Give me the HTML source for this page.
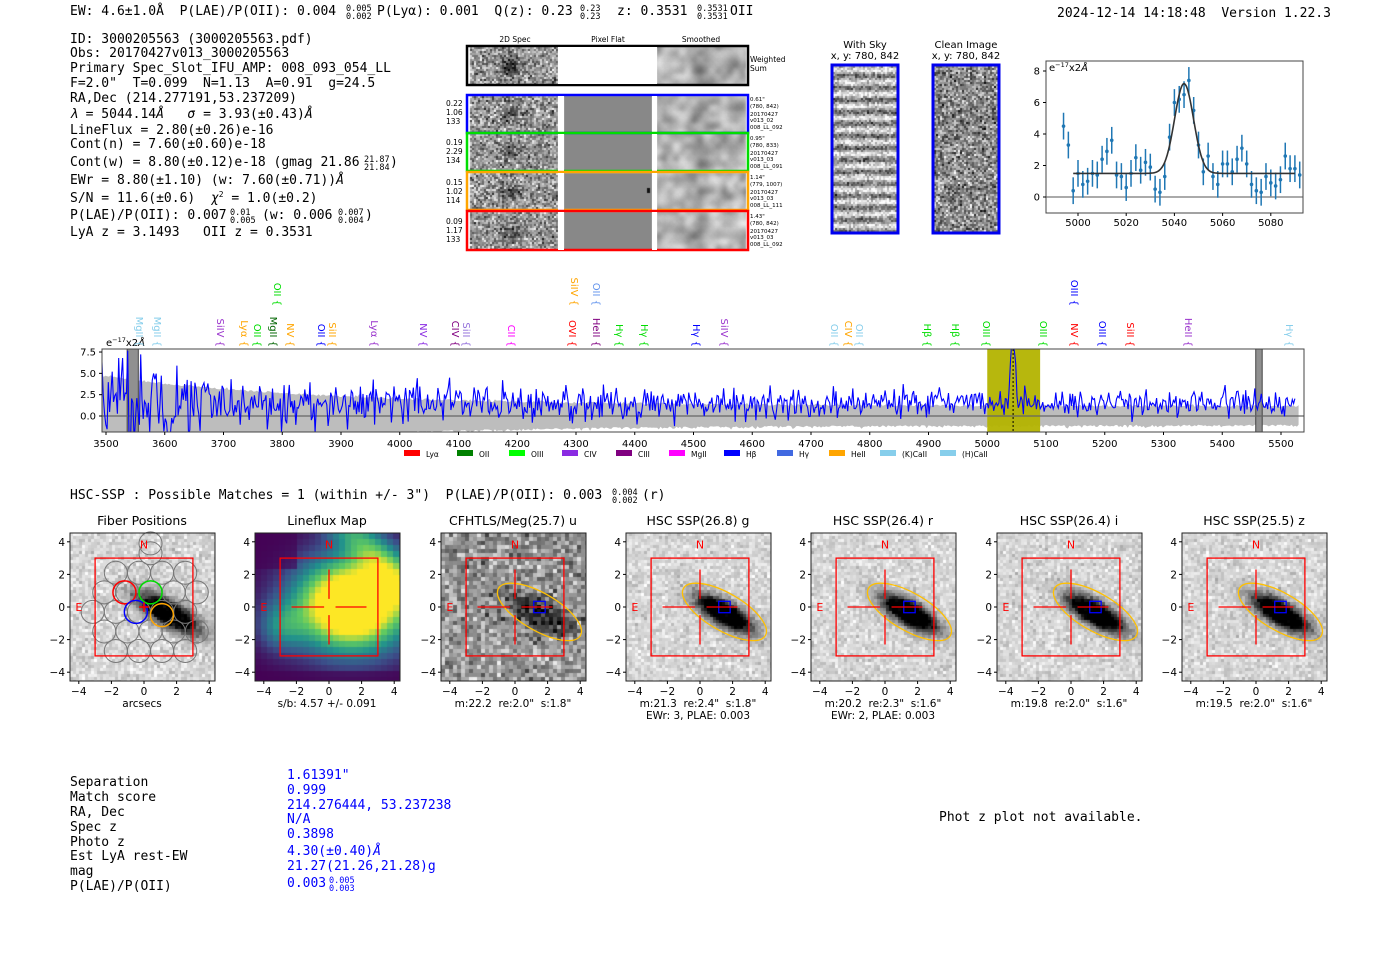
<!DOCTYPE html>
<html><head><meta charset="utf-8">
<style>
body{margin:0;background:#fff;width:1400px;height:953px;overflow:hidden;position:relative}
canvas{position:absolute;left:0;top:0}
svg{position:absolute;left:0;top:0}
.m{font-family:"DejaVu Sans Mono","Liberation Mono",monospace;font-size:13px;fill:#000}
.s{font-family:"DejaVu Sans","Liberation Sans",sans-serif}
.f{font-size:8.5px}
</style></head><body>
<canvas id="c" width="1400" height="953"></canvas>
<svg id="g" width="1400" height="953" xmlns="http://www.w3.org/2000/svg">
<g class="m">
<text x="70" y="15">EW: 4.6±1.0Å &#160;P(LAE)/P(OII): 0.004</text>
<text x="346" y="11" class="f">0.005</text><text x="346" y="19" class="f">0.002</text>
<text x="377" y="15">P(Lyα): 0.001 &#160;Q(z): 0.23</text>
<text x="580" y="11" class="f">0.23</text><text x="580" y="19" class="f">0.23</text>
<text x="617" y="15">z: 0.3531</text>
<text x="697" y="11" class="f">0.3531</text><text x="697" y="19" class="f">0.3531</text>
<text x="730" y="15">OII</text>
<text x="1057" y="17">2024-12-14 14:18:48 &#160;Version 1.22.3</text>

<text x="70" y="43">ID: 3000205563 (3000205563.pdf)</text>
<text x="70" y="57">Obs: 20170427v013_3000205563</text>
<text x="70" y="72">Primary Spec_Slot_IFU_AMP: 008_093_054_LL</text>
<text x="70" y="87">F=2.0" &#160;T=0.099 &#160;N=1.13 &#160;A=0.91 &#160;g=24.5</text>
<text x="70" y="102">RA,Dec (214.277191,53.237209)</text>
<text x="70" y="118"><tspan font-style="italic">λ</tspan> = 5044.14<tspan font-style="italic">Å</tspan> &#160;&#160;<tspan font-style="italic">σ</tspan> = 3.93(±0.43)<tspan font-style="italic">Å</tspan></text>
<text x="70" y="134">LineFlux = 2.80(±0.26)e-16</text>
<text x="70" y="148">Cont(n) = 7.60(±0.60)e-18</text>
<text x="70" y="166">Cont(w) = 8.80(±0.12)e-18 (gmag 21.86</text>
<text x="364" y="162" class="f">21.87</text><text x="364" y="170" class="f">21.84</text><text x="390" y="166">)</text>
<text x="70" y="184">EWr = 8.80(±1.10) (w: 7.60(±0.71))<tspan font-style="italic">Å</tspan></text>
<text x="70" y="202">S/N = 11.6(±0.6) &#160;<tspan font-style="italic">χ</tspan><tspan font-size="8" dy="-5">2</tspan><tspan dy="5"> = 1.0(±0.2)</tspan></text>
<text x="70" y="219">P(LAE)/P(OII): 0.007</text>
<text x="230" y="215" class="f">0.01</text><text x="230" y="223" class="f">0.005</text>
<text x="262" y="219">(w: 0.006</text><text x="338" y="215" class="f">0.007</text><text x="338" y="223" class="f">0.004</text><text x="365" y="219">)</text>
<text x="70" y="236">LyA z = 3.1493 &#160;&#160;OII z = 0.3531</text>

<text x="70" y="499">HSC-SSP : Possible Matches = 1 (within +/- 3") &#160;P(LAE)/P(OII): 0.003</text>
<text x="612" y="495" class="f">0.004</text><text x="612" y="503" class="f">0.002</text>
<text x="642" y="499">(r)</text>

<text x="70" y="786">Separation</text>
<text x="70" y="801">Match score</text>
<text x="70" y="816">RA, Dec</text>
<text x="70" y="831">Spec z</text>
<text x="70" y="846">Photo z</text>
<text x="70" y="860">Est LyA rest-EW</text>
<text x="70" y="875">mag</text>
<text x="70" y="890">P(LAE)/P(OII)</text>
<g style="fill:#0000ff">
<text x="287" y="779">1.61391"</text>
<text x="287" y="794">0.999</text>
<text x="287" y="809">214.276444, 53.237238</text>
<text x="287" y="823">N/A</text>
<text x="287" y="838">0.3898</text>
<text x="287" y="855">4.30(±0.40)<tspan font-style="italic">Å</tspan></text>
<text x="287" y="870">21.27(21.26,21.28)g</text>
<text x="287" y="887">0.003</text>
<text x="329" y="883" class="f">0.005</text><text x="329" y="891" class="f">0.003</text>
</g>
<text x="939" y="821">Phot z plot not available.</text>
</g>

<g class="s" font-size="7.5" fill="#000">
<text x="515" y="42" text-anchor="middle">2D Spec</text>
<text x="608" y="42" text-anchor="middle">Pixel Flat</text>
<text x="701" y="42" text-anchor="middle">Smoothed</text>
<text x="750" y="62">Weighted</text><text x="750" y="71">Sum</text>
<text x="446" y="106">0.22</text><text x="446" y="115">1.06</text><text x="446" y="124">133</text>
<text x="446" y="145">0.19</text><text x="446" y="154">2.29</text><text x="446" y="163">134</text>
<text x="446" y="185">0.15</text><text x="446" y="194">1.02</text><text x="446" y="203">114</text>
<text x="446" y="224">0.09</text><text x="446" y="233">1.17</text><text x="446" y="242">133</text>
</g>
<g class="s" font-size="5.5" fill="#000">
<text x="750" y="101">0.61"</text><text x="750" y="108">(780, 842)</text><text x="750" y="116">20170427</text><text x="750" y="122">v013_02</text><text x="750" y="129">008_LL_092</text>
<text x="750" y="140">0.95"</text><text x="750" y="147">(780, 833)</text><text x="750" y="155">20170427</text><text x="750" y="161">v013_03</text><text x="750" y="168">008_LL_091</text>
<text x="750" y="179">1.14"</text><text x="750" y="186">(779, 1007)</text><text x="750" y="194">20170427</text><text x="750" y="200">v013_03</text><text x="750" y="207">008_LL_111</text>
<text x="750" y="218">1.43"</text><text x="750" y="225">(780, 842)</text><text x="750" y="233">20170427</text><text x="750" y="239">v013_03</text><text x="750" y="246">008_LL_092</text>
</g>
<g class="s" font-size="10" fill="#000" text-anchor="middle">
<text x="865" y="48">With Sky</text><text x="865" y="59">x, y: 780, 842</text>
<text x="966" y="48">Clean Image</text><text x="966" y="59">x, y: 780, 842</text>
</g>
<g id="dyn"></g>
</svg>
<script>
var s=1234567;function R(){s^=s<<13;s^=s>>>17;s^=s<<5;return ((s>>>0)%100000)/100000;}
function N(){return (R()+R()+R()+R()-2)*1.73;}
var cv=document.getElementById('c'),ctx=cv.getContext('2d');
function noise(x,y,w,h,p,fn){for(var j=0;j<h;j+=p)for(var i=0;i<w;i+=p){var v=fn(i/w,j/h);if(typeof v=='number'){v=Math.max(0,Math.min(255,v|0));ctx.fillStyle='rgb('+v+','+v+','+v+')';}else ctx.fillStyle=v;ctx.fillRect(x+i,y+j,Math.min(p,w-i),Math.min(p,h-j));}}
function spec2d(y,h,dark){noise(470,y,88,h,2,function(u,v){var d=Math.exp(-((u-0.45)*(u-0.45)/0.01+(v-0.5)*(v-0.5)/0.05));return 150+N()*45-d*dark;});}
function smooth(y,h,dark){ctx.save();ctx.beginPath();ctx.rect(657,y,89,h);ctx.clip();ctx.filter='blur(3px)';noise(650,y-8,103,h+16,6,function(u,v){var d=Math.exp(-((u-0.45)*(u-0.45)/0.006+(v-0.55)*(v-0.55)/0.06));return 150+N()*50-d*dark;});ctx.restore();ctx.filter='none';}
spec2d(47,37,120);smooth(47,37,170);
var rows=[[96,37,'#0000ff'],[134,37,'#00dd00'],[173,37,'#ffa500'],[212,38,'#ff0000']];
rows.forEach(function(r,k){spec2d(r[0],r[1],60);ctx.fillStyle='#888';ctx.fillRect(564,r[0],88,r[1]);smooth(r[0],r[1],90);});
ctx.fillStyle='#111';ctx.fillRect(647,188,3,5);
noise(833,66,64,166,2,function(u,v){var st=Math.sin(v*166/12*2*Math.PI);return 170+st*60+N()*35;});
noise(934,66,64,166,2,function(u,v){return 140+N()*50;});
var vir=[[68,1,84],[59,82,139],[33,145,140],[94,201,98],[253,231,37]];
function vc(t){t=Math.max(0,Math.min(1,t))*4;var i=Math.min(3,Math.floor(t)),f=t-i,a=vir[i],b=vir[i+1];return 'rgb('+[0,1,2].map(function(k){return Math.round(a[k]+(b[k]-a[k])*f)}).join(',')+')';}
noise(255,533,145,148,6,function(u,v){var x=(u-0.5)*8.8,y=(0.5-v)*8.8;var t=1.5*Math.exp(-((x-1.3)*(x-1.3)/(2*2.4*2.4)+(y-0.3)*(y-0.3)/(2*1.9*1.9)));t+=0.5*Math.exp(-((x+y-6)*(x+y-6))/3)+0.35*Math.exp(-((x+3)*(x+3)+(y+1)*(y+1))/2);if(y<-3.5||(x<-2&&y>2.5))t*=0.4;return vc(t);});
var P=[70,255,441,626,811,997,1182];
function gal(x0,bg,amp,ns,px,sz){noise(x0,533,145,148,px,function(u,v){var x=(u-0.5)*8.8,y=(0.5-v)*8.8;var dx=x-1.5,dy=y+0.3;var c=Math.cos(-0.52),sn=Math.sin(-0.52);var a=dx*c+dy*sn,b=-dx*sn+dy*c;var d=Math.exp(-(a*a/(2*1.4*1.4*sz)+b*b/(2*0.5*0.5*sz)));return bg+N()*ns-amp*Math.min(1,d*1.6);});}
gal(70,215,230,18,3,1);gal(441,150,110,35,4,1);
[3,4,5,6].forEach(function(k){gal(P[k],215,240,16,3,0.85);});
var o='';
function T(x,y,t,a,extra){return '<text x="'+x+'" y="'+y+'" '+(a?'text-anchor="'+a+'" ':'')+(extra||'')+'>'+t+'</text>';}
o+='<rect x="467" y="46" width="281" height="39" fill="none" stroke="#000" stroke-width="2.5"/>';
o+='<rect x="558" y="47" width="99" height="37" fill="#fff"/>';
rows.forEach(function(r){o+='<rect x="467" y="'+(r[0]-1)+'" width="281" height="'+(r[1]+1)+'" fill="none" stroke="'+r[2]+'" stroke-width="2.5"/>';o+='<rect x="558" y="'+r[0]+'" width="6" height="'+r[1]+'" fill="#fff"/><rect x="652" y="'+r[0]+'" width="5" height="'+r[1]+'" fill="#fff"/>';});
o+='<rect x="832" y="65" width="66" height="168" fill="none" stroke="#0000ee" stroke-width="3"/><rect x="933" y="65" width="66" height="168" fill="none" stroke="#0000ee" stroke-width="3"/>';
var fx=function(l){return 1078+(l-5000)*2.41},fy=function(v){return 197-v*15.75};
o+='<rect x="1046" y="61" width="257" height="152" fill="none" stroke="#444" stroke-width="1"/>';
o+='<line x1="1046" y1="197" x2="1303" y2="197" stroke="#555" stroke-width="1"/>';
var d=[4.5,3.3,0.4,1.5,0.8,1.0,1.5,1.4,2.4,2.9,3.6,1.4,1.3,0.6,1.5,2.5,1.7,2.2,1.9,0.5,0.3,1.3,3.8,6.0,6.2,6.5,7.4,5.5,3.3,1.6,2.6,1.3,0.8,2.1,2.1,1.6,2.4,3.1,2.1,0.8,0.4,0.3,1.3,0.9,0.7,1.1,2.6,1.8,1.8,1.4];
var m='';for(var l=4998;l<=5090;l+=0.5){m+=fx(l).toFixed(1)+','+fy(1.5+5.7*Math.exp(-(l-5044)*(l-5044)/(2*3.93*3.93))).toFixed(1)+' ';}
d.forEach(function(v,i){var l=4994+2*i,x=fx(l);o+='<line x1="'+x+'" y1="'+fy(v+0.85)+'" x2="'+x+'" y2="'+fy(v-0.85)+'" stroke="#1f77b4" stroke-width="1.5"/><circle cx="'+x+'" cy="'+fy(v)+'" r="1.8" fill="#1f77b4"/>';});
o+='<polyline points="'+m+'" fill="none" stroke="#333" stroke-width="1.6"/>';
o+='<g class="s" font-size="10">';
[5000,5020,5040,5060,5080].forEach(function(l){o+='<line x1="'+fx(l)+'" y1="213" x2="'+fx(l)+'" y2="216" stroke="#000"/>'+T(fx(l),226,l,'middle');});
[0,2,4,6,8].forEach(function(v){o+='<line x1="1043" y1="'+fy(v)+'" x2="1046" y2="'+fy(v)+'" stroke="#000"/>'+T(1040,fy(v)+3.5,v,'end');});
o+=T(1049,71,'e<tspan font-size="6.5" dy="-4">−17</tspan><tspan dy="4">x2</tspan><tspan font-style="italic">Å</tspan>');
o+='</g>';
var sx=function(l){return 106+(l-3500)*0.5875},sy=function(v){return 416-v*8.53};
o+='<defs><clipPath id="sc"><rect x="102" y="349" width="1202" height="83"/></clipPath></defs>';
o+='<g clip-path="url(#sc)">';
function er(l){var t=(l-3500)/2000;return 1.05+3.5*Math.exp(-t*5.5);}
var up='',lo='';for(var l=3490;l<=5530;l+=3){up+=sx(l).toFixed(1)+','+sy(er(l)+Math.abs(N())*0.15).toFixed(1)+' ';}
for(var l=5530;l>=3490;l-=3){lo+=sx(l).toFixed(1)+','+sy(-er(l)*0.95-Math.abs(N())*0.15).toFixed(1)+' ';}
o+='<polygon points="'+up+lo+'" fill="#bdbdbd"/>';
o+='<rect x="'+sx(5000)+'" y="349" width="'+(sx(5090)-sx(5000))+'" height="83" fill="#b3b300" opacity="0.95"/>';
o+='<rect x="'+sx(3536)+'" y="349" width="'+(sx(3555)-sx(3536))+'" height="83" fill="#909090" stroke="#444"/>';
o+='<rect x="'+sx(5457)+'" y="349" width="'+(sx(5468)-sx(5457))+'" height="83" fill="#909090" stroke="#444"/>';
o+='<line x1="102" y1="416" x2="1304" y2="416" stroke="#666" stroke-width="1.2"/>';
var sp='';for(var l=3493;l<=5525;l+=2.2){var t=(l-3500)/2000;var sg=0.7+1.6*Math.exp(-t*4);var v=1.5+N()*sg*1.0+7*Math.exp(-(l-5044)*(l-5044)/(2*4*4));if(l<3560)v=1.5+N()*3.0;sp+=sx(l).toFixed(1)+','+sy(v).toFixed(1)+' ';}
o+='<polyline points="'+sp+'" fill="none" stroke="#0000ff" stroke-width="1.1"/>';
o+='<line x1="'+sx(5044)+'" y1="349" x2="'+sx(5044)+'" y2="432" stroke="#000" stroke-dasharray="2,2"/>';
o+='</g><rect x="102" y="349" width="1202" height="83" fill="none" stroke="#444"/>';
o+='<g class="s" font-size="10">';
for(var l=3500;l<=5500;l+=100){o+='<line x1="'+sx(l)+'" y1="432" x2="'+sx(l)+'" y2="435" stroke="#000"/>'+T(sx(l),447,l,'middle');}
[[7.5,'7.5'],[5,'5.0'],[2.5,'2.5'],[0,'0.0']].forEach(function(a){o+='<line x1="99" y1="'+sy(a[0])+'" x2="102" y2="'+sy(a[0])+'" stroke="#000"/>'+T(96,sy(a[0])+3.5,a[1],'end');});
o+=T(106,346,'e<tspan font-size="6.5" dy="-4">−17</tspan><tspan dy="4">x2</tspan><tspan font-style="italic">Å</tspan>');
var LB=[[140,'MgII','#87ceeb'],[158,'MgII','#87ceeb'],[221,'SiIV','#9932cc'],[245,'Lyα','#ffa500'],[258,'OII','#00dd00'],[274,'MgII','#006400'],[291,'NV','#ffa500'],[322,'OII','#0000ff'],[333,'SiII','#ffa500'],[375,'Lyα','#9932cc'],[424,'NV','#8a2be2'],[456,'CIV','#800080'],[467,'SiII','#9370db'],[512,'CII','#ff00ff'],[573,'OVI','#ff0000'],[597,'HeII','#800080'],[620,'Hγ','#00dd00'],[645,'Hγ','#00dd00'],[697,'Hγ','#0000ff'],[725,'SiIV','#9932cc'],[835,'OII','#87ceeb'],[849,'CIV','#ffa500'],[860,'OII','#87ceeb'],[928,'Hβ','#00dd00'],[956,'Hβ','#00dd00'],[987,'OIII','#00dd00'],[1044,'OIII','#00dd00'],[1075,'NV','#ff0000'],[1103,'OIII','#0000ff'],[1131,'SiII','#ff0000'],[1189,'HeII','#9932cc'],[1290,'Hγ','#87ceeb']];
LB.forEach(function(a){o+='<text transform="translate('+(a[0]-4)+',347) rotate(90)" text-anchor="end" fill="'+a[2]+'">'+a[1]+' {</text>';});
[[278,'OII','#00dd00'],[575,'SiIV','#ffa500'],[597,'OII','#6495ed'],[1075,'OIII','#0000ff']].forEach(function(a){o+='<text transform="translate('+(a[0]-4)+',306) rotate(90)" text-anchor="end" fill="'+a[2]+'">'+a[1]+' {</text>';});
o+='</g>';
var LG=[[404,'Lyα','#ff0000'],[457,'OII','#008000'],[509,'OIII','#00ff00'],[562,'CIV','#8a2be2'],[616,'CIII','#800080'],[669,'MgII','#ff00ff'],[724,'Hβ','#0000ff'],[777,'Hγ','#4169e1'],[829,'HeII','#ffa500'],[880,'(K)CaII','#87ceeb'],[940,'(H)CaII','#87ceeb']];
o+='<g class="s" font-size="7.5">';LG.forEach(function(a){o+='<rect x="'+a[0]+'" y="450" width="16" height="6" fill="'+a[2]+'"/>'+T(a[0]+22,457,a[1]);});o+='</g>';
var titles=['Fiber Positions','Lineflux Map','CFHTLS/Meg(25.7) u','HSC SSP(26.8) g','HSC SSP(26.4) r','HSC SSP(26.4) i','HSC SSP(25.5) z'];
var sub=[['arcsecs'],['s/b: 4.57 +/- 0.091'],['m:22.2 &#160;re:2.0" &#160;s:1.8"'],['m:21.3 &#160;re:2.4" &#160;s:1.8"','EWr: 3, PLAE: 0.003'],['m:20.2 &#160;re:2.3" &#160;s:1.6"','EWr: 2, PLAE: 0.003'],['m:19.8 &#160;re:2.0" &#160;s:1.6"'],['m:19.5 &#160;re:2.0" &#160;s:1.6"']];
o+='<g class="s">';
P.forEach(function(x0,k){var cx=x0+74,cy=607,S=16.3;var X=function(u){return cx+u*S},Y=function(v){return cy-v*S};
 if(k==0){var gc='';for(var r=-4;r<=3;r++){for(var q=-4;q<=4;q++){var u=0.4+q*1.42+((r+8)%2?-0.71:0),v=0.9+r*1.2;if(Math.hypot(u-0.3,v+0.1)<3.5)gc+='<circle cx="'+X(u)+'" cy="'+Y(v)+'" r="11.5" fill="none" stroke="#777" stroke-width="1"/>';}}
  gc+='<circle cx="'+X(0.4)+'" cy="'+Y(3.9)+'" r="11.5" fill="none" stroke="#777" stroke-width="1"/>';o+=gc;
  [[-1.2,0.9,'#ff0000'],[0.4,0.9,'#00dd00'],[-0.5,-0.3,'#0000ff'],[1.1,-0.5,'#ffa500']].forEach(function(c){o+='<circle cx="'+X(c[0])+'" cy="'+Y(c[1])+'" r="11.5" fill="none" stroke="'+c[2]+'" stroke-width="1.5"/>';});
  o+='<path d="M'+X(-0.3)+' '+cy+'H'+X(0.3)+'M'+cx+' '+Y(0.3)+'V'+Y(-0.3)+'" stroke="#f00" stroke-width="1.5"/>';}
 if(k>=2){o+='<ellipse cx="'+X(1.5)+'" cy="'+Y(-0.3)+'" rx="'+(2.9*S)+'" ry="'+(1.15*S)+'" transform="rotate(30 '+X(1.5)+' '+Y(-0.3)+')" fill="none" stroke="#ffc000" stroke-width="1.3"/>';o+='<rect x="'+X(1.15)+'" y="'+Y(0.35)+'" width="'+(0.7*S)+'" height="'+(0.7*S)+'" fill="none" stroke="#0000ff" stroke-width="1.3"/>';}
 if(k>=1){o+='<path d="M'+X(-2.3)+' '+cy+'H'+X(-0.3)+'M'+X(0.4)+' '+cy+'H'+X(2.3)+'M'+cx+' '+Y(2.3)+'V'+Y(0.5)+'M'+cx+' '+Y(-0.5)+'V'+Y(-2.3)+'" stroke="#f00" stroke-width="1.3"/>';}
 o+='<rect x="'+X(-3)+'" y="'+Y(3)+'" width="'+(6*S)+'" height="'+(6*S)+'" fill="none" stroke="#f00" stroke-width="1.3"/>';
 o+='<text x="'+cx+'" y="'+(Y(3.9)+5)+'" text-anchor="middle" fill="#f00" font-size="11">N</text><text x="'+X(-4)+'" y="'+(cy+4)+'" text-anchor="middle" fill="#f00" font-size="11">E</text>';
 o+='<rect x="'+x0+'" y="533" width="145" height="148" fill="none" stroke="#222"/>';
 o+=T(x0+72,525,titles[k],'middle','font-size="12.5"');
 [-4,-2,0,2,4].forEach(function(t){var lab=t<0?'−'+(-t):''+t;o+='<line x1="'+X(t)+'" y1="681" x2="'+X(t)+'" y2="684" stroke="#000"/>'+T(X(t),695,lab,'middle','font-size="10.5"');o+='<line x1="'+(x0-3)+'" y1="'+Y(t)+'" x2="'+x0+'" y2="'+Y(t)+'" stroke="#000"/>'+T(x0-5,Y(t)+4,lab,'end','font-size="10.5"');});
 sub[k].forEach(function(t,j){o+=T(x0+72,707+j*12,t,'middle','font-size="10.5"');});
});
o+='</g>';
document.getElementById('dyn').innerHTML=o;
</script>
</body></html>
